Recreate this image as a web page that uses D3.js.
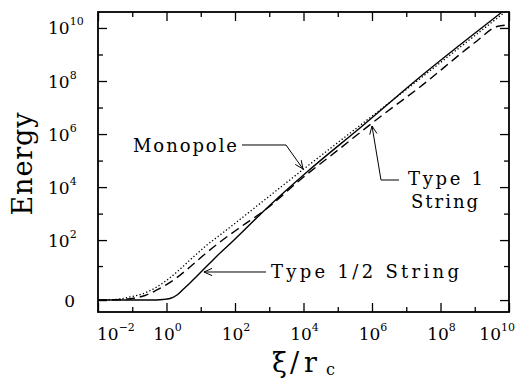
<!DOCTYPE html>
<html>
<head>
<meta charset="utf-8">
<script src="https://cdn.jsdelivr.net/npm/d3@7"></script>
<style>
  html, body { margin: 0; padding: 0; background: #fff; }
  svg { display: block; }
  text { font-family: "DejaVu Serif", serif; fill: #000; }
</style>
</head>
<body>
<svg id="chart" width="516" height="379"></svg>
<script>
// Energy as a function of core-normalised size xi / r_c

// Type 1/2 string (solid)
const halfStringXi = [0.01, 0.33, 0.79, 1.26, 2.03, 3.03, 4.85, 7.78, 11.6, 18.6, 29.8, 87.5, 859, 1.26e4, 5.65e5, 2.52e7, 7.26e8, 6.25e9];
const halfStringE  = [0, 0, 0.028, 0.08, 0.30, 0.83, 1.87, 3.9, 6.9, 13.2, 24.7, 92.3, 1630, 3.7e4, 2.2e6, 1.42e8, 4.58e9, 3.98e10];

// Type 1 string (dashed)
const oneStringXi = [0.01, 0.0439, 0.120, 0.236, 0.461, 0.904, 1.77, 4.85, 13.3, 36.5, 140, 752, 7.91e3, 1.16e5, 1.71e6, 2.52e7, 1.16e9, 4.47e9, 1e10];
const oneStringE  = [0, 0.028, 0.11, 0.27, 0.66, 1.40, 2.88, 9.2, 29.5, 84.6, 300, 1370, 1.85e4, 2.86e5, 4.41e6, 5.96e7, 3.24e9, 1.14e10, 1.30e10];

// Monopole (dotted)
const monopoleXi = [0.01, 0.0439, 0.0859, 0.193, 0.493, 1.35, 4.85, 15.2, 36.5, 1.11e4, 1.71e6, 1.16e9, 7.64e9];
const monopoleE  = [0, 0.05, 0.17, 0.38, 1.09, 3.53, 17.3, 65, 156, 5.26e4, 8.09e6, 5.94e9, 3.98e10];

// Axis tick exponents
const xLabelPowers = [-2, 0, 2, 4, 6, 8, 10];
const xMinorPowers = [-1, 1, 3, 5, 7, 9];
const yLabelPowers = [2, 4, 6, 8, 10];
const yMinorPowers = [1, 3, 5, 7, 9];

// Annotation arrows, given in data coordinates (tail ... tip)
const monopoleArrow = [[160, 3.87e5], [3080, 3.87e5], [9660, 4.82e4]];
const oneStringArrow = [[6.14e6, 1.85e4], [1.83e6, 1.85e4], [1.0e6, 2.02e6]];
const halfStringArrow = [[803, 5.74], [12.4, 5.74]];

const svg = d3.select("#chart");
const plotLeft = 98, plotRight = 509, plotTop = 12, plotBottom = 312;

const x = d3.scaleLog().domain([1e-2, 1e10]).range([plotLeft, plotRight]);
const y = d3.scaleSymlog().constant(0.55).domain([-1, 4e10]).range([plotBottom, plotTop]);

svg.append("defs").append("clipPath").attr("id", "plotClip")
  .append("rect").attr("x", plotLeft).attr("y", plotTop)
  .attr("width", plotRight - plotLeft).attr("height", plotBottom - plotTop);

// Ticks on all four sides, pointing inward
const pow = p => Math.pow(10, p);
const xMajor = xLabelPowers.map(pow);
const xMinor = xMinorPowers.map(pow);
const yMajor = [0].concat(yLabelPowers.map(pow));
const yMinor = yMinorPowers.map(pow);

function tickGroup(axisFn, scale, vals, size, tx, ty) {
  svg.append("g")
    .attr("transform", `translate(${tx},${ty})`)
    .call(axisFn(scale).tickValues(vals).tickSize(-size).tickFormat(""))
    .call(g => g.select(".domain").remove())
    .call(g => g.selectAll(".tick line").attr("stroke", "#000").attr("stroke-width", 1.3));
}
tickGroup(d3.axisBottom, x, xMajor, 9, 0, plotBottom);
tickGroup(d3.axisBottom, x, xMinor, 5, 0, plotBottom);
tickGroup(d3.axisTop, x, xMajor, 9, 0, plotTop);
tickGroup(d3.axisTop, x, xMinor, 5, 0, plotTop);
tickGroup(d3.axisLeft, y, yMajor, 9, plotLeft, 0);
tickGroup(d3.axisLeft, y, yMinor, 5, plotLeft, 0);
tickGroup(d3.axisRight, y, yMajor, 9, plotRight, 0);
tickGroup(d3.axisRight, y, yMinor, 5, plotRight, 0);

// Frame
svg.append("rect")
  .attr("x", plotLeft).attr("y", plotTop)
  .attr("width", plotRight - plotLeft).attr("height", plotBottom - plotTop)
  .attr("fill", "none").attr("stroke", "#000").attr("stroke-width", 1.8);

// Power-of-ten label helper
function powerLabel(sel, p) {
  sel.append("tspan").text("10");
  sel.append("tspan").attr("font-size", 11).attr("dy", -9)
    .text(p < 0 ? "\u2212" + Math.abs(p) : String(p));
}

// x tick labels
xLabelPowers.forEach(p => {
  const t = svg.append("text").attr("font-size", 17).attr("y", 340);
  if (p === -2) t.attr("x", plotLeft - 1).attr("text-anchor", "start");
  else if (p === 10) t.attr("x", 515).attr("text-anchor", "end");
  else t.attr("x", x(pow(p)) + 1).attr("text-anchor", "middle");
  powerLabel(t, p);
});

// y tick labels
yLabelPowers.forEach(p => {
  const t = svg.append("text").attr("font-size", 17)
    .attr("x", 48).attr("y", y(pow(p)) + 6.5);
  powerLabel(t, p);
});
svg.append("text").attr("font-size", 17).attr("text-anchor", "end")
  .attr("x", 75).attr("y", y(0) + 7).text("0");

// Axis titles
svg.append("text").attr("font-size", 27).attr("text-anchor", "middle")
  .attr("transform", "translate(32,164) rotate(-90)")
  .attr("textLength", 103).attr("lengthAdjust", "spacing")
  .text("Energy");
svg.append("text").attr("font-size", 27).attr("x", 272).attr("y", 372).text("\u03BE");
svg.append("text").attr("font-size", 27).attr("x", 290).attr("y", 372).text("/");
svg.append("text").attr("font-size", 27).attr("x", 304).attr("y", 372).text("r");
svg.append("text").attr("font-size", 16).attr("x", 326).attr("y", 375).text("c");

// Curves
const line = d3.line().x(d => x(d[0])).y(d => y(d[1])).curve(d3.curveMonotoneX);
const plot = svg.append("g").attr("clip-path", "url(#plotClip)");
const series = [
  { xi: halfStringXi, e: halfStringE, dash: null, w: 1.4 },
  { xi: oneStringXi, e: oneStringE, dash: "9,5", w: 1.4 },
  { xi: monopoleXi, e: monopoleE, dash: "1.3,2.2", w: 1.3 }
];
series.forEach(s => {
  plot.append("path")
    .datum(s.xi.map((v, i) => [v, s.e[i]]))
    .attr("d", line)
    .attr("fill", "none")
    .attr("stroke", "#000")
    .attr("stroke-width", s.w)
    .attr("stroke-dasharray", s.dash);
});

// Annotation arrows with open heads
function arrow(pts) {
  const p = pts.map(d => [x(d[0]), y(d[1])]);
  svg.append("path")
    .attr("d", d3.line()(p))
    .attr("fill", "none").attr("stroke", "#000").attr("stroke-width", 1);
  const [tx, ty] = p[p.length - 1];
  const [sx, sy] = p[p.length - 2];
  const ang = Math.atan2(ty - sy, tx - sx);
  const len = 9, spread = 0.42;
  const head = [
    [tx - len * Math.cos(ang - spread), ty - len * Math.sin(ang - spread)],
    [tx, ty],
    [tx - len * Math.cos(ang + spread), ty - len * Math.sin(ang + spread)]
  ];
  svg.append("path")
    .attr("d", d3.line()(head))
    .attr("fill", "none").attr("stroke", "#000").attr("stroke-width", 1);
  return p;
}

const mA = arrow(monopoleArrow);
const oA = arrow(oneStringArrow);
const hA = arrow(halfStringArrow);

svg.append("text").attr("font-size", 18).attr("text-anchor", "end")
  .attr("x", mA[0][0] - 5).attr("y", mA[0][1] + 7)
  .attr("textLength", 104).attr("lengthAdjust", "spacing")
  .text("Monopole");
svg.append("text").attr("font-size", 18)
  .attr("x", oA[0][0] + 9).attr("y", oA[0][1] + 5)
  .attr("textLength", 75).attr("lengthAdjust", "spacing")
  .text("Type 1");
svg.append("text").attr("font-size", 18)
  .attr("x", oA[0][0] + 12).attr("y", oA[0][1] + 28)
  .attr("textLength", 67).attr("lengthAdjust", "spacing")
  .text("String");
svg.append("text").attr("font-size", 18)
  .attr("x", hA[0][0] + 5).attr("y", hA[0][1] + 6)
  .attr("textLength", 188).attr("lengthAdjust", "spacing")
  .text("Type 1/2 String");
</script>
</body>
</html>
